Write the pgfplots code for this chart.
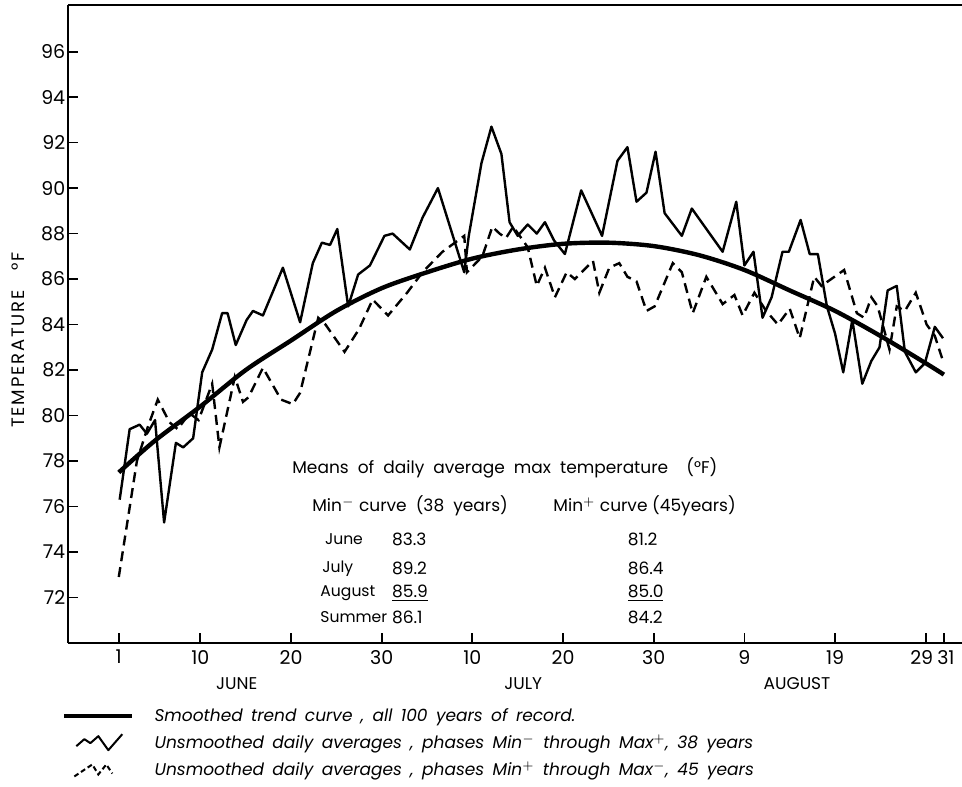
\documentclass[border=0pt]{standalone}
\usepackage{fontspec}
\setmainfont{Poppins}
\newfontfamily\legfont[WordSpace=1.65]{Poppins}
\usepackage{pgfplots}
\pgfplotsset{compat=1.18}

\begin{document}
\begin{tikzpicture}
\begin{axis}[
  scale only axis,
  width=447pt, height=319pt,
  xmin=-4.6, xmax=94, ymin=70, ymax=98.05,
  axis lines=left,
  axis line style={-, line width=1pt},
  tick align=inside,
  major tick length=5pt,
  tick style={line width=0.9pt, black},
  xtick={1,10,20,30,40,50,60,70,80,90,92},
  xticklabels={1,10,20,30,10,20,30,9,19,29\kern4pt,\kern2pt31},
  ytick={72,74,...,96},
  /pgf/number format/assume math mode=true,
  ticklabel style={font=\fontsize{9.5}{11}\selectfont},
  yticklabel style={inner sep=1.2pt},
  ylabel={TEMPERATURE\ \ \ °F},
  ylabel style={at={(axis description cs:-0.056,0.475)}, anchor=center,
    font=\fontsize{9}{11}\selectfont\addfontfeature{LetterSpace=10}},
  clip=false,
  legend cell align=left,
  legend style={at={(axis description cs:-0.007,-0.095)}, anchor=north west,
    draw=none, fill=none, inner sep=0pt, row sep=1.5pt, column sep=8pt,
    font=\fontsize{8.5}{10}\legfont\itshape},
]
% smoothed trend, 100 years
\addplot[black, line width=2.2pt, smooth, tension=0.5,
  legend image code/.code={\path[draw=none] (0pt,-4pt) rectangle (34pt,4pt);
    \draw[line width=2.2pt] (0pt,0pt) -- (34pt,0pt);}] table {
1 77.5
5 78.9
10 80.4
15 82.0
20 83.3
25 84.6
30 85.6
35 86.3
40 86.9
45 87.3
50 87.55
55 87.6
60 87.45
65 87.05
70 86.4
75 85.5
80 84.6
85 83.5
90 82.3
92 81.8
};
\addlegendentry{Smoothed trend curve , all 100 years of record.}

% Min- through Max+, 38 years
\addplot[black, line width=1.2pt, line join=round,
  legend image code/.code={\path[draw=none] (0pt,-4pt) rectangle (34pt,4pt);
    \draw[line width=1pt] (6pt,-1.5pt) -- (10pt,2pt) -- (13pt,0pt) -- (17pt,3.5pt) -- (22pt,-3.5pt) -- (29pt,4.5pt);}] table {
1.1 76.3
2.2 79.4
3.3 79.6
4.1 79.2
5 79.8
6 75.3
7.3 78.8
8.1 78.6
9.2 79.0
10.2 81.9
11.3 82.9
12.4 84.5
13 84.5
13.9 83.1
15.1 84.2
15.8 84.6
16.9 84.4
19.1 86.5
21 84.1
22.4 86.7
23.4 87.6
24.3 87.5
25.1 88.2
26.3 84.8
27.4 86.2
28.7 86.6
30.3 87.9
31.2 88.0
33.1 87.3
34.5 88.7
36.2 90.0
39.1 86.3
39.6 87.9
41 91.1
42.1 92.7
43.2 91.5
44.1 88.5
45 87.9
46.1 88.4
47.1 88.0
48 88.5
49 87.7
50.2 87.1
52 89.9
54.3 87.9
56 91.2
57.1 91.8
58.1 89.4
59.2 89.8
60.2 91.6
61.2 88.9
63.1 87.9
64.2 89.1
67.6 87.2
69.1 89.4
70 86.6
71 87.2
72 84.3
73 85.2
74.2 87.2
74.9 87.2
76.2 88.6
77.2 87.1
78.1 87.1
79.1 84.8
80 83.6
80.9 81.9
81.9 84.2
83 81.4
84 82.4
84.9 83.0
85.8 85.5
86.8 85.7
87.7 82.8
88.9 81.9
89.9 82.3
91 83.9
91.9 83.4
};
\addlegendentry{Unsmoothed daily averages , phases Min$^-$ through Max$^+$, 38 years}

% Min+ through Max-, 45 years
\addplot[black, line width=1.2pt, dash pattern=on 5pt off 3pt,
  legend image code/.code={\path[draw=none] (0pt,-4pt) rectangle (34pt,4pt);
    \draw[line width=1pt, dash pattern=on 2.5pt off 1.5pt] (5pt,-3pt) -- (11pt,1pt) -- (14pt,3pt) -- (17pt,-2pt) -- (21pt,3pt) -- (24pt,-1.5pt);}] table {
1 72.9
3 78.0
4.2 79.5
5.3 80.7
6.6 79.7
7.5 79.4
8.8 80.1
9.8 79.8
11.3 81.4
12.1 78.6
13.8 81.7
14.7 80.6
15.3 80.8
16.9 82.1
18.9 80.7
20.2 80.5
21 81.0
23 84.3
23.8 84.0
25.9 82.8
27.5 83.8
29 85.1
30.7 84.4
32.8 85.4
34.5 86.3
36.7 87.2
39.1 87.9
39.4 86.3
41.1 87.0
42.2 88.3
43 88.0
43.7 87.8
44.5 88.3
46.1 87.4
47.1 85.7
48 86.5
49.1 85.2
50.4 86.3
51.3 86.0
53.3 86.8
54 85.4
55.1 86.5
56.2 86.7
57.1 86.1
58.1 85.9
59.2 84.6
60.1 84.8
62.1 86.7
63.1 86.3
64.3 84.5
65.8 86.1
67.6 84.9
68.9 85.3
69.8 84.4
71.1 85.4
72.4 84.6
73.7 84.0
75 84.7
76.1 83.4
77.7 86.1
78.5 85.7
81 86.4
82.4 84.5
83.2 84.3
84 85.2
84.7 84.8
86 82.9
86.8 84.8
87.7 84.6
88.9 85.4
90.1 84.0
91 83.5
91.9 82.4
};
\addlegendentry{Unsmoothed daily averages , phases Min$^+$ through Max$^-$, 45 years}

% top frame line
\draw[line width=1pt] (rel axis cs:0,1) -- (rel axis cs:1,1);

% month names
\node[font=\fontsize{8.5}{10}\selectfont] at (axis cs:14,68.2) {JUNE};
\node[font=\fontsize{8.5}{10}\selectfont] at (axis cs:45.6,68.2) {JULY};
\node[font=\fontsize{8.5}{10}\selectfont] at (axis cs:75.8,68.2) {AUGUST};

% table of means
\begin{scope}[every node/.style={anchor=west, inner sep=0pt, font=\fontsize{8.5}{10}\selectfont}]
\node at (axis cs:20.1,77.68) {Means\ \ of\ \ daily\ \ average\ \ max\ \ temperature\ \ \ \ (°F)};
\node at (axis cs:22.3,76.05) {Min$^-$ curve\ \ (38\ \ years)};
\node at (axis cs:48.9,76.05) {Min$^+$ curve (45years)};
\node at (axis cs:31.1,74.55) {83.3};
\node at (axis cs:31.1,73.28) {89.2};
\node at (axis cs:31.1,72.18) {\underline{85.9}};
\node at (axis cs:31.1,71.12) {86.1};
\node at (axis cs:57.1,74.55) {81.2};
\node at (axis cs:57.1,73.28) {86.4};
\node at (axis cs:57.1,72.18) {\underline{85.0}};
\node at (axis cs:57.1,71.12) {84.2};
\end{scope}
\begin{scope}[every node/.style={anchor=west, inner sep=0pt, font=\fontsize{7.8}{9}\selectfont}]
\node at (axis cs:23.7,74.55) {June};
\node at (axis cs:23.4,73.28) {July};
\node at (axis cs:23.2,72.18) {August};
\node at (axis cs:23.2,71.12) {Summer};
\end{scope}
\end{axis}
\pgfresetboundingbox
\path[use as bounding box] (-34pt,-71.5pt) rectangle (447pt,321.5pt);
\end{tikzpicture}
\end{document}
